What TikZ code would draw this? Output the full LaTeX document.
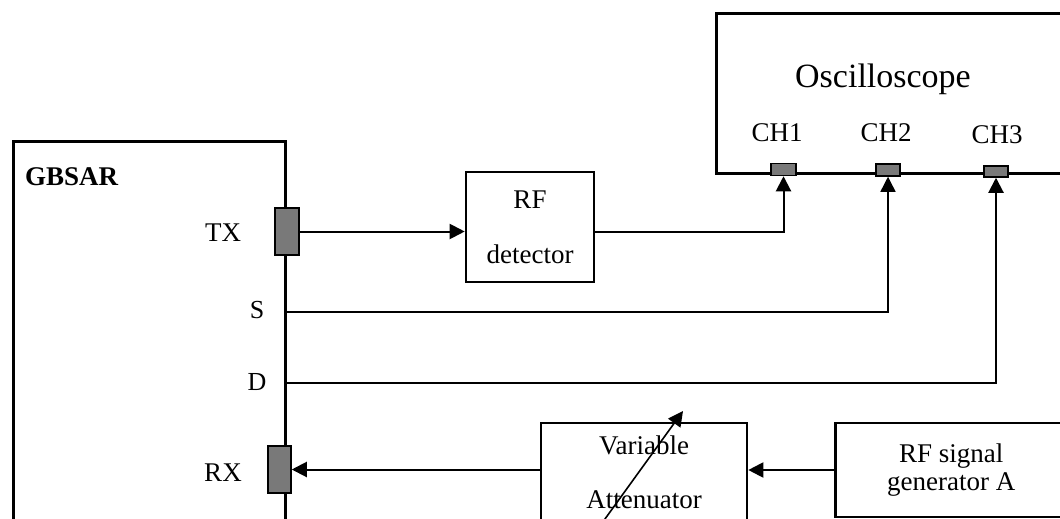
\documentclass[tikz,border=0pt]{standalone}
\usepackage{fontspec}
\setmainfont{Liberation Serif}
\usetikzlibrary{arrows.meta}

\begin{document}
\begin{tikzpicture}[x=1pt, y=-1pt,
    box/.style = {draw, line width=2.6pt, inner sep=0pt},
    port/.style = {draw, line width=1.5pt, fill=gray!95!black, inner sep=0pt},
    txt/.style = {inner sep=0pt, font=\fontsize{27}{28}\selectfont},
    arr/.style = {line width=2pt, -{Triangle[length=15pt,width=15pt]}}]
        \useasboundingbox (0,0) rectangle (1060,519);
        \clip (0,0) rectangle (1060,519);
        % boxes
        \node [box, anchor=north west, minimum width=272pt, minimum height=420pt] (gbsar) at (12,140) {};
        \node [box, anchor=north west, minimum width=360pt, minimum height=160pt] (scope) at (715,12) {};
        \node [box, txt, minimum width=128pt, minimum height=110pt, align=center] (det) at (530,227) {RF\\[27pt]detector};
        \node [box, txt, minimum width=206pt, minimum height=98pt, align=center] (att) at (644,472) {Variable\\[26pt]Attenuator};
        \node [box, txt, anchor=west, minimum width=232pt, minimum height=94pt, align=center] (gen) at (834,470) {RF signal\\generator A};
        % labels
        \node [txt, font=\fontsize{27}{28}\bfseries\selectfont, anchor=west] (gbsarlabel) at (25,177) {GBSAR};
        \node [txt, font=\fontsize{34}{40}\selectfont] (scopelabel) at (883,79) {Oscilloscope};
        \node [txt] (txlabel) at (223,233) {TX};
        \node [txt] (rxlabel) at (223,473) {RX};
        \node [txt, font=\fontsize{26}{28}\selectfont] (slabel) at (257,310) {S};
        \node [txt, font=\fontsize{26}{28}\selectfont] (dlabel) at (257,382) {D};
        \node [txt] (ch1label) at (777,133) {CH1};
        \node [txt] (ch2label) at (886,133) {CH2};
        \node [txt] (ch3label) at (997,135) {CH3};
        % ports
        \node [port, minimum width=24pt, minimum height=47pt] (tx) at (287,231.5) {};
        \node [port, minimum width=23pt, minimum height=47pt] (rx) at (279.5,469.5) {};
        \node [port, minimum width=25pt, minimum height=12pt] (ch1) at (783.5,169.5) {};
        \node [port, minimum width=24pt, minimum height=12pt] (ch2) at (888,170) {};
        \node [port, minimum width=24pt, minimum height=11pt] (ch3) at (996,171.5) {};
        \coordinate (s) at (285,312);
        \coordinate (d) at (285,383);
        \coordinate (knobstart) at (597,530);
        \coordinate (knobend) at (683,411);
        % connections
        \draw [arr] (tx.east) -- (tx.east -| det.west);
        \draw [arr] (det.east |- tx.east) -| (ch1.south);
        \draw [arr, line width=1.4pt] (s) -| (ch2.south);
        \draw [arr] (d) -| (ch3.south);
        \draw [arr] (gen.west) -- (gen.west -| att.east);
        \draw [arr] (att.west |- rx.east) -- (rx.east);
        \draw [arr, line width=1.6pt] (knobstart) -- (knobend);
\end{tikzpicture}
\end{document}
